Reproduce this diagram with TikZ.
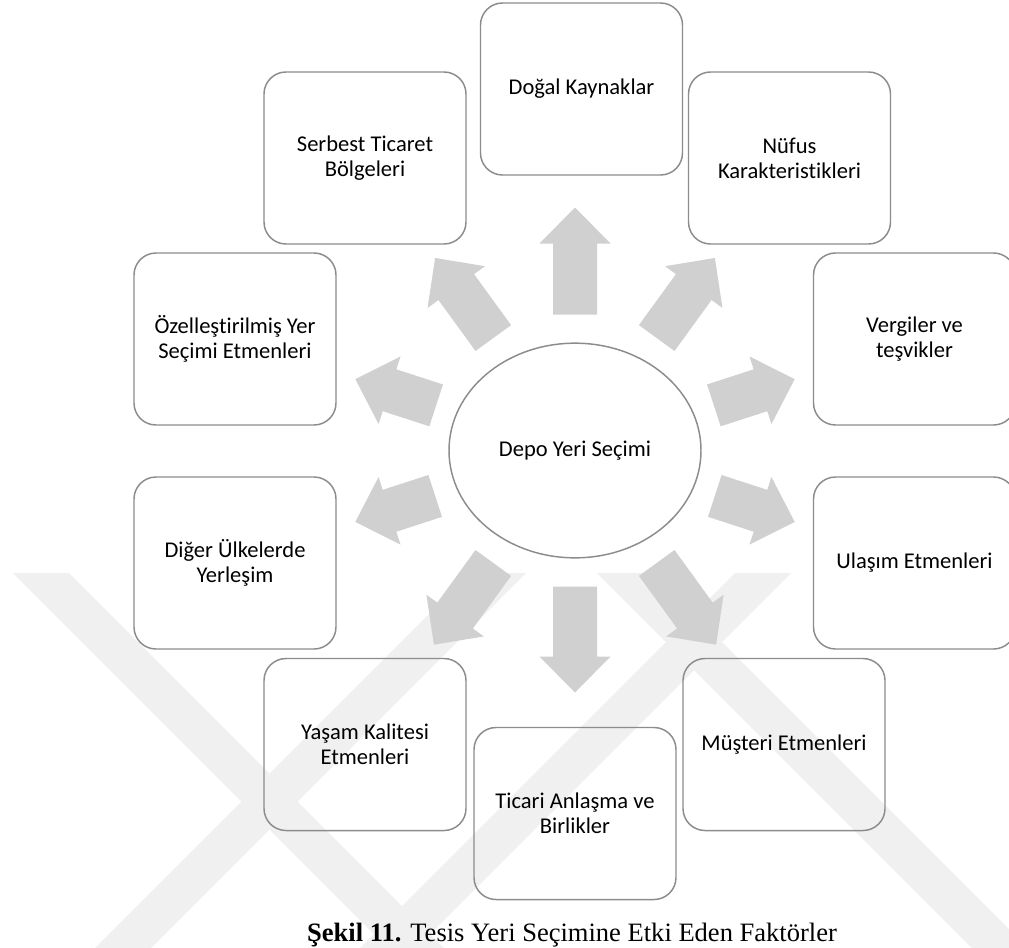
\documentclass[tikz,border=0pt]{standalone}
\usepackage{fontspec}
\setmainfont{Liberation Serif}
\newfontfamily\boxfont{Carlito}[Ligatures={NoCommon}]
\usetikzlibrary{shapes.geometric}

\definecolor{edgegray}{HTML}{8C8C8C}
\definecolor{arrowgray}{HTML}{D0D0D0}
\definecolor{markgray}{HTML}{F0F0F0}

\tikzset{
  factor/.style={draw=edgegray, line width=1.1pt,
    rounded corners=16.5pt, minimum width=151.5pt, minimum height=129pt,
    align=center, inner sep=0pt,
    font=\boxfont\fontsize{16.9}{18.75}\selectfont},
  hubshape/.style={ellipse, draw=edgegray, line width=1.1pt, fill=white,
    minimum width=189pt, minimum height=161pt, inner sep=0pt,
    font=\boxfont\fontsize{16.9}{18.75}\selectfont},
  blockarrow/.style={fill=arrowgray, draw=none},
  markband/.style={fill=markgray, draw=none}
}

% radial block arrow: direction angle, inner radius, tip radius
\newcommand\radialarrow[3]{%
  \fill[blockarrow, shift={(hub.center)}, rotate=#1]
    (#2,-22) -- ({#3-36},-22) -- ({#3-36},-35.5) -- (#3,0)
    -- ({#3-36},35.5) -- ({#3-36},22) -- (#2,22) -- cycle;
}
% diagonal background bands starting on the line y=573
\newcommand\banddown[1]{\fill[markband] (#1,573) -- ({#1+56},573) -- ({#1+56+380},953) -- ({#1+380},953) -- cycle;}
\newcommand\bandup[1]{\fill[markband] (#1,573) -- ({#1+56},573) -- ({#1+56-380},953) -- ({#1-380},953) -- cycle;}

\begin{document}
\begin{tikzpicture}[x=0.75pt, y=-0.75pt]
  \fill[white] (0,0) rectangle (1009,947);
  \useasboundingbox (0,0) rectangle (1009,947);

  % faint background mark
  \begin{scope}
    \clip (0,573) rectangle (1009,947);
    \banddown{13}
    \bandup{470}
    \banddown{597}
    \bandup{735}
  \end{scope}

  % central ellipse
  \node[hubshape] (hub) at (575,450.5) {Depo Yeri Se\c{c}imi};

  % arrows pointing outwards
  \radialarrow{90}{136}{243}
  \radialarrow{54}{139}{238}
  \radialarrow{126}{139}{238}
  \radialarrow{18}{146}{231}
  \radialarrow{162}{146}{231}
  \radialarrow{-18}{147}{231}
  \radialarrow{198}{147}{231}
  \radialarrow{-54}{139}{240}
  \radialarrow{234}{139}{240}
  \radialarrow{-90}{136}{242}

  % factor boxes
  \node[factor] (dogal)   at (581.5,89)   {Doğal Kaynaklar};
  \node[factor] (serbest) at (365,158)    {Serbest Ticaret\\Bölgeleri};
  \node[factor] (nufus)   at (789.5,158)  {Nüfus\\Karakteristikleri};
  \node[factor] (ozel)    at (235,339)    {Özelleştirilmiş Yer\\Seçimi Etmenleri};
  \node[factor] (vergi)   at (914.5,339)  {Vergiler ve\\teşvikler};
  \node[factor] (diger)   at (235,563)    {Diğer Ülkelerde\\Yerleşim};
  \node[factor] (ulasim)  at (914.5,563)  {Ulaşım Etmenleri};
  \node[factor] (yasam)   at (365,744.5)  {Yaşam Kalitesi\\Etmenleri};
  \node[factor] (musteri) at (784,744.5)  {Müşteri Etmenleri};
  \node[factor] (ticari)  at (575,813.5)  {Ticari Anlaşma ve\\Birlikler};

  % caption
  \node[anchor=base, inner sep=0pt, font=\fontsize{19.9}{24}\selectfont] (caption)
    at (572,941) {\textbf{Şekil 11.} Tesis Yeri Seçimine Etki Eden Faktörler};
\end{tikzpicture}
\end{document}
